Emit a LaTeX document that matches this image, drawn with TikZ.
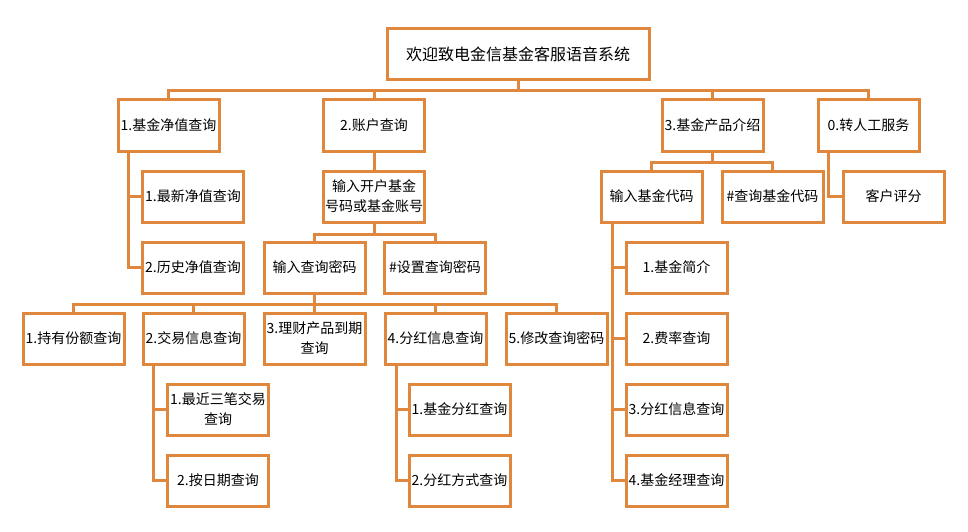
\documentclass[tikz,border=0pt]{standalone}
\usepackage{fontspec}
\newfontfamily\cjk{Noto Sans CJK SC}
\definecolor{boxorange}{RGB}{224,135,62}
\begin{document}
\begin{tikzpicture}[x=1pt,y=-1pt,
  bx/.style={draw=boxorange,line width=3pt,fill=white,minimum width=101pt,minimum height=51pt,inner sep=0pt,align=center,font=\cjk\fontsize{14}{20}\selectfont,text=black},
  conn/.style={draw=boxorange,line width=3pt}]
\useasboundingbox[fill=white] (0,0) rectangle (968,532);
% nodes
\node[bx,minimum width=262pt,font=\cjk\fontsize{16}{20}\selectfont] (title) at (518,54.5) {欢迎致电金信基金客服语音系统};
\node[bx] (n1) at (168.5,125.5) {1.基金净值查询};
\node[bx] (n2) at (374,125.5) {2.账户查询};
\node[bx] (n3) at (712.5,125.5) {3.基金产品介绍};
\node[bx] (n0) at (868.5,125.5) {0.转人工服务};
\node[bx] (n11) at (193,196.5) {1.最新净值查询};
\node[bx] (n12) at (193,267.5) {2.历史净值查询};
\node[bx] (n21) at (374,196.5) {输入开户基金\\号码或基金账号};
\node[bx] (n211) at (314.5,267.5) {输入查询密码};
\node[bx] (n212) at (435,267.5) {\#设置查询密码};
\node[bx] (r1) at (73.5,338.5) {1.持有份额查询};
\node[bx] (r2) at (193.5,338.5) {2.交易信息查询};
\node[bx] (r3) at (314.5,338.5) {3.理财产品到期\\查询};
\node[bx] (r4) at (435.5,338.5) {4.分红信息查询};
\node[bx] (r5) at (556.5,338.5) {5.修改查询密码};
\node[bx] (r21) at (218,409.5) {1.最近三笔交易\\查询};
\node[bx] (r22) at (218,480.5) {2.按日期查询};
\node[bx] (r41) at (459.5,409.5) {1.基金分红查询};
\node[bx] (r42) at (459.5,480.5) {2.分红方式查询};
\node[bx] (n31) at (651.5,196.5) {输入基金代码};
\node[bx] (n32) at (772.5,196.5) {\#查询基金代码};
\node[bx] (n311) at (676.5,267.5) {1.基金简介};
\node[bx] (n312) at (676.5,338.5) {2.费率查询};
\node[bx] (n313) at (676.5,409.5) {3.分红信息查询};
\node[bx] (n314) at (676.5,480.5) {4.基金经理查询};
\node[bx] (n01) at (893.5,196.5) {客户评分};
% connectors
\begin{scope}[on background layer/.style={}]
\foreach \t in {n1,n2,n3,n0} \draw[conn] (title.south) -- ++(0,9) -| (\t.north);
\draw[conn] ([xshift=-40.5pt]n1.south) |- (n11.west);
\draw[conn] ([xshift=-40.5pt]n1.south) |- (n12.west);
\draw[conn] (n2.south) -- (n21.north);
\foreach \t in {n211,n212} \draw[conn] (n21.south) -- ++(0,10.5) -| (\t.north);
\foreach \t in {r1,r2,r3,r4,r5} \draw[conn] (n211.south) -- ++(0,10) -| (\t.north);
\draw[conn] ([xshift=-40.5pt]r2.south) |- (r21.west);
\draw[conn] ([xshift=-40.5pt]r2.south) |- (r22.west);
\draw[conn] ([xshift=-39.5pt]r4.south) |- (r41.west);
\draw[conn] ([xshift=-39.5pt]r4.south) |- (r42.west);
\foreach \t in {n31,n32} \draw[conn] (n3.south) -- ++(0,10) -| (\t.north);
\foreach \t in {n311,n312,n313,n314} \draw[conn] ([xshift=-39.5pt]n31.south) |- (\t.west);
\draw[conn] ([xshift=-40.5pt]n0.south) |- (n01.west);
\end{scope}
\end{tikzpicture}
\end{document}
